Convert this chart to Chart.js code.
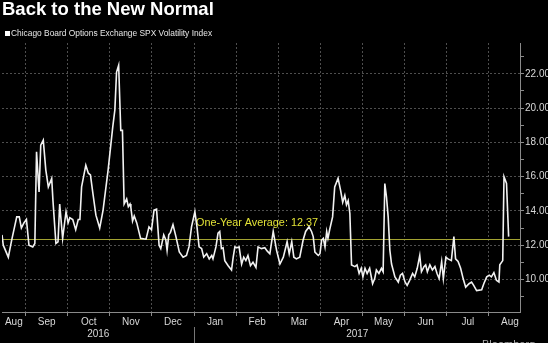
<!DOCTYPE html>
<html>
<head>
<meta charset="utf-8">
<script src="https://cdn.jsdelivr.net/npm/chart.js@4.4.1/dist/chart.umd.min.js"></script>
<style>
  html, body { margin: 0; padding: 0; background: #000; overflow: hidden; }
  #wrap { position: relative; width: 548px; height: 343px; background: #000; overflow: hidden; }
  #chart { position: absolute; left: 0; top: 0; }
  .title { position: absolute; left: 2px; top: 0; font: bold 18.5px/18.5px "Liberation Sans", Arial, sans-serif; color: #fff; white-space: nowrap; }
  .legend { position: absolute; left: 11px; top: 29px; font: 8.4px/8.4px "Liberation Sans", Arial, sans-serif; color: #e6e6e6; white-space: nowrap; }
  .swatch { position: absolute; left: 5px; top: 30.5px; width: 5px; height: 5.5px; background: #fff; }
  .source { position: absolute; left: 482px; top: 339px; font: 11px/11px "Liberation Sans", Arial, sans-serif; color: #aaa; white-space: nowrap; }
</style>
</head>
<body>
<div id="wrap">
  <canvas id="chart" width="548" height="343"></canvas>
  <div class="title">Back to the New Normal</div>
  <div class="swatch"></div>
  <div class="legend">Chicago Board Options Exchange SPX Volatility Index</div>
  <div class="source">Bloomberg</div>
</div>
<script>
// time in months since 1 Aug 2016 (1 = Sep 1, 5 = Jan 1 2017, 12 = Aug 1 2017)
const months = [
  0.44, 0.47, 0.59, 0.67, 0.79, 0.85, 0.90, 0.96,
  1.02, 1.08, 1.17, 1.22, 1.26, 1.32, 1.36, 1.42, 1.48, 1.54, 1.62, 1.65, 1.72, 1.77, 1.81, 1.88, 1.96,
  2.01, 2.05, 2.12, 2.19, 2.25, 2.29, 2.33, 2.43, 2.49, 2.54, 2.60, 2.67, 2.76, 2.84, 2.96,
  3.07, 3.12, 3.16, 3.21, 3.26, 3.30, 3.34, 3.40, 3.44, 3.48, 3.50, 3.54, 3.58, 3.64, 3.73, 3.86, 3.93, 3.99,
  4.05, 4.11, 4.17, 4.21, 4.28, 4.33, 4.36, 4.40, 4.44, 4.50, 4.57, 4.65, 4.74, 4.82, 4.88, 4.94,
  5.02, 5.07, 5.12, 5.18, 5.23, 5.30, 5.36, 5.42, 5.45, 5.52, 5.57, 5.61, 5.65, 5.69, 5.73, 5.81, 5.89, 5.93, 5.97,
  6.02, 6.07, 6.13, 6.18, 6.23, 6.28, 6.34, 6.40, 6.47, 6.52, 6.60, 6.68, 6.74, 6.80, 6.88, 6.96,
  7.04, 7.12, 7.21, 7.26, 7.32, 7.37, 7.43, 7.51, 7.59, 7.65, 7.73, 7.79, 7.83, 7.87, 7.95, 7.99,
  8.03, 8.07, 8.11, 8.15, 8.18, 8.22, 8.29, 8.34, 8.42, 8.48, 8.53, 8.58, 8.62, 8.66, 8.70, 8.74, 8.82, 8.87, 8.92, 8.97,
  9.01, 9.06, 9.11, 9.17, 9.24, 9.29, 9.33, 9.39, 9.45, 9.49, 9.53, 9.57, 9.61, 9.65, 9.69, 9.77, 9.85, 9.90, 9.95,
  10.01, 10.06, 10.12, 10.19, 10.24, 10.30, 10.36, 10.40, 10.46, 10.50, 10.54, 10.60, 10.66, 10.72, 10.77, 10.82, 10.88, 10.92, 10.98,
  11.03, 11.11, 11.17, 11.21, 11.27, 11.33, 11.39, 11.45, 11.53, 11.59, 11.64, 11.71, 11.83, 11.88, 11.95,
  12.01, 12.06, 12.12, 12.18, 12.24, 12.26, 12.33, 12.36, 12.42, 12.47
];
const vix = [
  12.6, 12.0, 11.3, 12.3, 13.65, 13.65, 13.0, 13.3,
  13.5, 12.0, 11.9, 12.1, 17.45, 15.1, 17.84, 18.13, 16.4, 15.4, 15.9, 14.6, 12.1, 12.2, 14.4, 12.4, 13.95,
  13.3, 13.6, 13.5, 12.9, 13.5, 13.5, 15.4, 16.67, 16.2, 16.1, 15.0, 13.75, 13.0, 14.05, 16.4,
  18.9, 19.9, 22.1, 22.5, 18.7, 18.7, 14.4, 14.7, 14.25, 14.4, 14.2, 13.4, 13.7, 13.3, 12.4, 12.35, 13.07, 12.9,
  14.05, 14.1, 12.0, 11.8, 12.6, 12.3, 11.7, 12.6, 12.75, 13.2, 12.5, 11.6, 11.3, 11.4, 11.9, 13.07,
  13.95, 13.07, 11.9, 11.8, 11.3, 11.5, 11.2, 11.4, 11.2, 11.9, 12.7, 12.8, 11.8, 11.85, 11.1, 10.8, 10.55, 11.3, 11.9,
  11.85, 11.9, 10.9, 11.3, 11.1, 11.4, 10.8, 11.0, 10.7, 11.9, 11.8, 11.85, 11.65, 11.5, 12.8, 11.7,
  10.9, 11.3, 12.2, 11.5, 12.2, 11.3, 11.2, 11.3, 12.3, 12.8, 13.07, 12.8, 12.5, 11.6, 11.4, 11.5,
  12.3, 12.4, 11.9, 12.8, 12.4, 12.9, 13.65, 15.4, 15.9, 15.2, 14.5, 14.9, 14.35, 14.6, 13.85, 10.85, 10.75, 10.85, 10.35, 10.65,
  10.15, 10.65, 10.35, 10.65, 9.75, 10.05, 10.55, 10.35, 10.65, 10.45, 15.6, 14.8, 13.65, 11.7, 10.9, 10.15, 9.85, 10.25, 10.35,
  9.85, 9.65, 9.95, 10.35, 10.15, 10.65, 11.4, 10.45, 10.75, 10.85, 10.45, 10.85, 10.55, 10.75, 10.35, 10.05, 11.05, 10.05, 11.3,
  11.2, 11.1, 12.5, 11.2, 11.05, 10.65, 10.05, 9.55, 9.75, 9.85, 9.65, 9.35, 9.4, 9.75, 10.15,
  10.25, 10.15, 10.4, 9.95, 9.85, 10.85, 11.1, 15.99, 15.6, 12.5
];
const average = 12.37;

const monthLabels = ['Aug', 'Sep', 'Oct', 'Nov', 'Dec', 'Jan', 'Feb', 'Mar', 'Apr', 'May', 'Jun', 'Jul', 'Aug'];
const monthLabelAt = [0.72, 1.5, 2.5, 3.5, 4.5, 5.5, 6.5, 7.5, 8.5, 9.5, 10.5, 11.5, 12.5];
const monthStarts = [1, 2, 3, 4, 5, 6, 7, 8, 9, 10, 11, 12];
const years = ['2016', '2017'];
const yearBreak = 5;
const yTicks = [9, 10, 11, 12, 13, 14, 15, 16, 17, 18, 19, 20, 21, 22, 23];

const GRID = '#4e4e4e';
const AXIS = '#8a8a8a';
const TEXT = '#d8d8d8';
const FONT = '"Liberation Sans", Arial, sans-serif';

const extras = {
  id: 'extras',
  beforeDatasetsDraw(chart) {
    const { ctx, chartArea: a, scales: { x, y } } = chart;
    const yy = Math.round(y.getPixelForValue(average)) + 0.5;
    ctx.save();
    ctx.strokeStyle = '#a3a332';
    ctx.lineWidth = 1;
    ctx.beginPath();
    ctx.moveTo(a.left, yy);
    ctx.lineTo(a.right, yy);
    ctx.stroke();
    ctx.fillStyle = '#e2e236';
    ctx.font = '10.8px ' + FONT;
    ctx.textBaseline = 'alphabetic';
    ctx.fillText('One-Year Average: ' + average.toFixed(2), x.getPixelForValue(yearBreak) + 2, yy - 14);
    ctx.restore();
  },
  afterDraw(chart) {
    const { ctx, chartArea: a, scales: { x } } = chart;
    const xb = Math.round(x.getPixelForValue(yearBreak)) + 0.5;
    ctx.save();
    ctx.strokeStyle = '#777';
    ctx.lineWidth = 1;
    ctx.beginPath();
    ctx.moveTo(xb, 327);
    ctx.lineTo(xb, 343);
    ctx.stroke();
    ctx.fillStyle = TEXT;
    ctx.font = '10px ' + FONT;
    ctx.textAlign = 'center';
    ctx.textBaseline = 'middle';
    ctx.fillText(years[0], (a.left + xb) / 2, 334);
    ctx.fillText(years[1], (xb + a.right) / 2, 334);
    ctx.restore();
  }
};

new Chart(document.getElementById('chart'), {
  type: 'line',
  data: {
    datasets: [{
      label: 'Chicago Board Options Exchange SPX Volatility Index',
      data: months.map((m, i) => ({ x: m, y: vix[i] })),
      borderColor: '#f2f2f2',
      borderWidth: 1.6,
      pointRadius: 0,
      tension: 0
    }]
  },
  options: {
    responsive: false,
    animation: false,
    layout: { padding: { top: 43, left: 2, right: 0, bottom: 0 } },
    plugins: { legend: { display: false }, tooltip: { enabled: false } },
    scales: {
      x: {
        type: 'linear',
        min: 0.44,
        max: 12.74,
        afterBuildTicks: s => {
          s.ticks = monthStarts.concat(monthLabelAt).sort((p, q) => p - q).map(v => ({ value: v }));
        },
        afterFit: s => { s.height = 31; },
        grid: {
          color: c => Number.isInteger(c.tick.value) ? GRID : 'transparent',
          tickColor: c => Number.isInteger(c.tick.value) ? AXIS : 'transparent',
          tickLength: 4
        },
        border: { color: AXIS, dash: [2, 2] },
        ticks: {
          autoSkip: false,
          maxRotation: 0,
          padding: 0,
          color: TEXT,
          font: { family: FONT, size: 10 },
          callback: v => {
            const i = monthLabelAt.indexOf(v);
            return i >= 0 ? monthLabels[i] : '';
          }
        }
      },
      y: {
        position: 'right',
        min: 8.1,
        max: 23.8,
        afterBuildTicks: s => { s.ticks = yTicks.map(v => ({ value: v })); },
        afterFit: s => { s.width = 28; },
        grid: {
          color: c => c.tick.value % 2 === 0 ? GRID : 'transparent',
          tickColor: AXIS,
          tickLength: 4
        },
        border: { color: AXIS, dash: [2, 2] },
        ticks: {
          padding: 1,
          color: TEXT,
          font: { family: FONT, size: 10 },
          callback: v => v % 2 === 0 ? v.toFixed(2) : ''
        }
      }
    }
  },
  plugins: [extras]
});
</script>
</body>
</html>
